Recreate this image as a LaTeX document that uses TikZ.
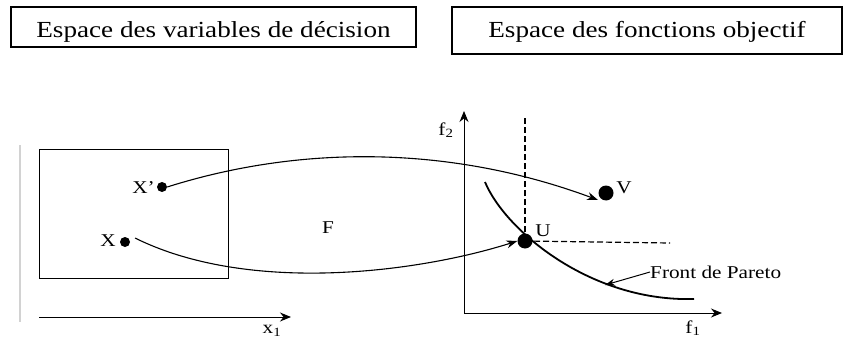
\documentclass[tikz,border=0pt]{standalone}
\usepackage{fontspec}
\usepackage{graphicx}
\setmainfont{Liberation Serif}
\usetikzlibrary{arrows.meta}
\newcommand\wide[1]{\scalebox{1.18}[1]{#1}}
\begin{document}
\begin{tikzpicture}[x=1pt,y=-1pt,
  titlebox/.style={draw,line width=1.6pt,inner sep=0pt,font=\fontsize{23}{26}\selectfont},
  lbl/.style={inner sep=0pt,font=\fontsize{18}{20}\selectfont},
  dot/.style={circle,fill=black,inner sep=0pt,minimum size=#1},
  axis/.style={line width=1pt,-{Stealth[length=11pt,width=9pt]}},
  link/.style={line width=1.1pt,-{Stealth[length=11pt,width=8pt]}},
  dashline/.style={line width=1.2pt,dash pattern=on 6pt off 3pt}]
\useasboundingbox (0,0) rectangle (848,342);
% title boxes
\node[titlebox,minimum width=405pt,minimum height=40pt,text height=24pt,text depth=2pt] (t1) at (213.5,27) {\wide{Espace des variables de décision}};
\node[titlebox,minimum width=390pt,minimum height=47pt,text height=17pt,text depth=2pt] (t2) at (647,30.5) {\wide{Espace des fonctions objectif}};
% gray bar
\draw[line width=1.6pt,gray!35] (20,145) -- (20,322);
% decision space
\node[draw,line width=1pt,minimum width=189pt,minimum height=129pt,inner sep=0pt] (dom) at (133.5,213.5) {};
\coordinate (x1s) at (39,317);
\coordinate (x1e) at (291,317);
\draw[axis] (x1s) -- (x1e);
\node[lbl] (x1l) at (272,331) {\wide{x\textsubscript{1}}};
\node[dot=10pt] (xp) at (162,187) {};
\node[lbl,anchor=east] (xpl) at (155,188) {\wide{X’}};
\node[dot=10pt] (xx) at (125,242) {};
\node[lbl,anchor=east] (xl) at (116,241) {\wide{X}};
\node[lbl] (F) at (328,228) {\wide{F}};
% objective space
\coordinate (org) at (464,313);
\coordinate (f2e) at (464,111);
\coordinate (f1e) at (722,313);
\draw[axis] (org) -- (f2e);
\draw[axis] (org) -- (f1e);
\node[lbl] (f2l) at (446,130) {\wide{f\textsubscript{2}}};
\node[lbl] (f1l) at (693,328) {\wide{f\textsubscript{1}}};
\node[dot=15pt] (u) at (525,241) {};
\node[dot=15pt] (v) at (606,193) {};
\node[lbl] (ul) at (543,231) {\wide{U}};
\node[lbl] (vl) at (624,188) {\wide{V}};
\coordinate (dv) at (525,117);
\coordinate (dh) at (670,243);
\draw[dashline] (u.center) -- (dv);
\draw[dashline] (u.center) -- (dh);
% Pareto front
\coordinate (pa) at (485,182);
\coordinate (pb) at (694,299);
\draw[line width=1.8pt] (pa) .. controls (505,230) and (590,302) .. (pb);
\coordinate (pt) at (605,285);
\node[lbl,anchor=west] (pl) at (650,272) {\wide{Front de Pareto}};
\draw[line width=1pt,-{Stealth[length=10pt,width=7pt]}] (pl.west) -- (pt);
% mapping arrows
\draw[link] (xp.east) .. controls (300,145) and (450,145) .. ([xshift=-8pt,yshift=-7pt]v.center);
\draw[link] ([xshift=10pt,yshift=4pt]xx.center) .. controls (250,295) and (420,272) .. (u.west);
\end{tikzpicture}
\end{document}
